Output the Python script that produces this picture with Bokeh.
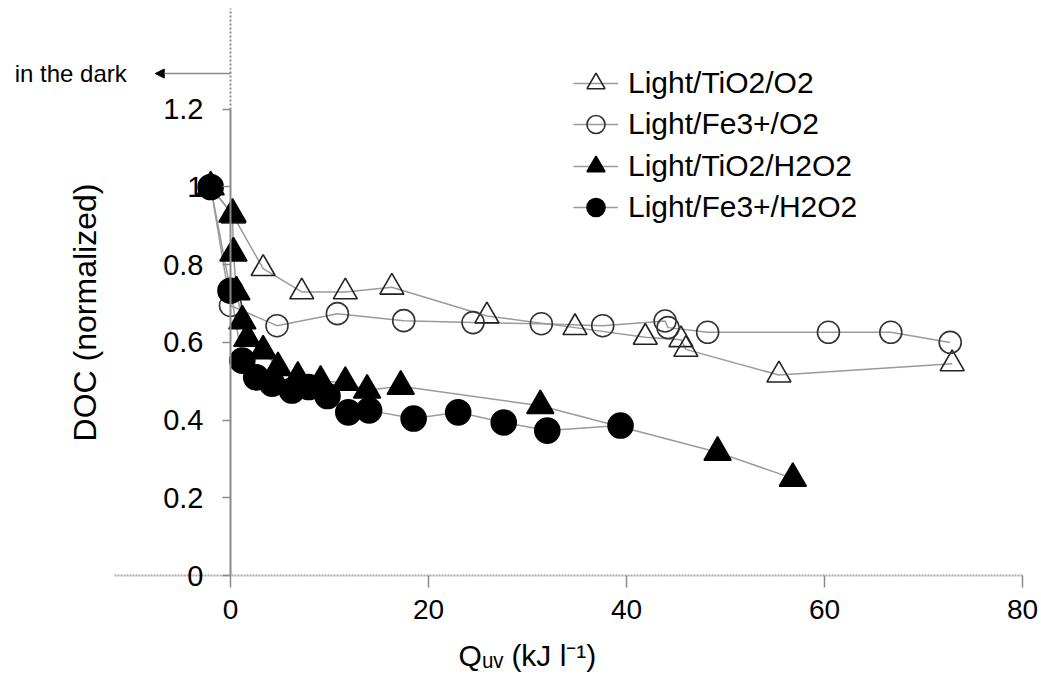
import math
from bokeh.plotting import figure
from bokeh.models import (Range1d, FixedTicker, Arrow, NormalHead, Label, LinearAxis,
                          Legend, LegendItem)
from bokeh.embed import file_html
from bokeh.resources import INLINE

FONT = "Liberation Sans"

# ---- data ----
series_names = ["Light/TiO2/O2", "Light/Fe3+/O2", "Light/TiO2/H2O2", "Light/Fe3+/H2O2"]

tio2_o2_x = [-2, 0.3, 3.3, 7.2, 11.6, 16.3, 25.9, 34.8, 41.9, 45.5, 46.0, 55.4, 72.9]
tio2_o2_y = [1.0, 0.925, 0.79, 0.73, 0.73, 0.742, 0.668, 0.638, 0.613, 0.607, 0.582, 0.516, 0.545]

fe_o2_x = [-2, 0, 4.7, 10.8, 17.5, 24.5, 31.4, 37.6, 43.9, 44.2, 48.2, 60.4, 66.7, 72.7]
fe_o2_y = [1.0, 0.695, 0.643, 0.674, 0.656, 0.651, 0.648, 0.643, 0.655, 0.638, 0.626, 0.626, 0.626, 0.60]

tio2_h2o2_x = [-2, 0.2, 0.3, 0.6, 1.2, 1.7, 3.3, 4.8, 6.8, 9.1, 11.6, 13.8, 17.2, 31.3, 49.2, 56.8]
tio2_h2o2_y = [1.0, 0.93, 0.83, 0.73, 0.655, 0.61, 0.578, 0.535, 0.51, 0.50, 0.497, 0.477, 0.487, 0.437, 0.317, 0.25]

fe_h2o2_x = [-2, 0, 1.2, 2.6, 4.2, 6.2, 7.9, 9.8, 11.9, 14.0, 18.5, 23.0, 27.6, 32.0, 39.4]
fe_h2o2_y = [1.0, 0.733, 0.553, 0.51, 0.494, 0.476, 0.485, 0.462, 0.42, 0.425, 0.404, 0.42, 0.394, 0.373, 0.386]

x_ticks = [0, 20, 40, 60, 80]
y_ticks = [0, 0.2, 0.4, 0.6, 0.8, 1.0, 1.2]
y_tick_labels = ["0", "0.2", "0.4", "0.6", "0.8", "1", "1.2"]

x_title = "Q\u1d64\u1d65 (kJ l\u207b\u00b9)"
y_title = "DOC (normalized)"
dark_label = "in the dark"
dark_arrow_y = 1.292
dark_arrow_end = -7.6

# ---- figure: the frame fills the whole canvas, axes sit at x=0 / y=0 ----
W, H = 1040, 686
p = figure(width=W, height=H, output_backend="svg", toolbar_location=None,
           title=None,
           x_range=Range1d(-23.23, 81.82), y_range=Range1d(-0.2857, 1.480),
           min_border_left=0, min_border_right=0, min_border_top=0,
           min_border_bottom=0)
p.outline_line_color = None
p.grid.visible = False
p.background_fill_color = "white"


def style_labels(ax, size):
    ax.major_label_text_font = FONT
    ax.major_label_text_font_size = size
    ax.major_label_text_color = "black"


# x axis at y = 0
xa = p.xaxis[0]
xa.fixed_location = 0
xa.bounds = (-11.7, 80)
xa.ticker = FixedTicker(ticks=x_ticks)
xa.major_tick_out = 12
xa.major_tick_in = 0
xa.minor_tick_out = 0
xa.minor_tick_in = 0
xa.axis_line_color = "#a8a8a8"
xa.axis_line_width = 2
xa.axis_line_dash = "2 1"
xa.major_tick_line_color = "#8a8a8a"
xa.major_tick_line_width = 1.5
style_labels(xa, "28px")
xa.major_label_standoff = 12

# y axis at x = 0 (solid up to 1.2)
ya = p.yaxis[0]
ya.fixed_location = 0
ya.bounds = (0, 1.2)
ya.ticker = FixedTicker(ticks=y_ticks)
ya.major_label_overrides = dict(zip(y_ticks, y_tick_labels))
ya.major_tick_out = 8
ya.major_tick_in = 0
ya.minor_tick_out = 0
ya.minor_tick_in = 0
ya.axis_line_color = "#8a8a8a"
ya.axis_line_width = 2
ya.major_tick_line_color = "#8a8a8a"
ya.major_tick_line_width = 1.5
style_labels(ya, "29px")
ya.major_label_standoff = 19

# dotted continuation of the Q=0 line ("dark" divider)
ya2 = LinearAxis(fixed_location=0, bounds=(1.2, 1.459))
ya2.ticker = FixedTicker(ticks=[])
ya2.major_tick_line_color = None
ya2.minor_tick_line_color = None
ya2.major_label_text_font_size = "0px"
ya2.axis_line_color = "#8a8a8a"
ya2.axis_line_width = 2
ya2.axis_line_dash = "2 2"
p.add_layout(ya2, "left")

# axis titles (placed as text annotations inside the full-canvas frame)
p.add_layout(Label(x=30.0, y=-0.206, text=x_title, text_font=FONT,
                   text_font_size="30px", text_align="center", text_baseline="middle",
                   text_color="black"))
p.add_layout(Label(x=-14.65, y=0.677, text=y_title, text_font=FONT, angle=math.pi / 2,
                   text_font_size="32px", text_align="center", text_baseline="middle",
                   text_color="black"))

p.add_layout(Arrow(end=NormalHead(size=9, fill_color="black", line_color="black"),
                   x_start=0, y_start=dark_arrow_y, x_end=dark_arrow_end, y_end=dark_arrow_y,
                   line_color="#8a8a8a", line_width=1.5))
p.add_layout(Label(x=-21.8, y=dark_arrow_y, text=dark_label, text_font=FONT,
                   text_font_size="24px", text_baseline="middle", text_align="left",
                   text_color="black"))

# ---- series ----
xs = [tio2_o2_x, fe_o2_x, tio2_h2o2_x, fe_h2o2_x]
ys = [tio2_o2_y, fe_o2_y, tio2_h2o2_y, fe_h2o2_y]
markers = ["triangle", "circle", "triangle", "circle"]
sizes = [24, 22, 27, 25]
fills = [None, None, "black", "black"]
edges = ["#222222", "#333333", "black", "black"]

line_r = []
for x, y in zip(xs, ys):
    line_r.append(p.line(x, y, line_color="#9a9a9a", line_width=1.5))
mark_r = []
for x, y, m, s, f, e in zip(xs, ys, markers, sizes, fills, edges):
    mark_r.append(p.scatter(x, y, marker=m, size=s, fill_color=f, line_color=e,
                            line_width=1.6))

# ---- legend: one row per legend box so the key markers can be large ----
row_centers = [83, 124, 166, 207]   # pixel rows of the legend entries
for name, lr, mr, cy in zip(series_names, line_r, mark_r, row_centers):
    lg = Legend(items=[LegendItem(label=name, renderers=[lr, mr])],
                location=(573, H - (cy + 25)))
    lg.margin = 0
    lg.padding = 0
    lg.border_line_color = None
    lg.background_fill_alpha = 0
    lg.glyph_width = 45
    lg.glyph_height = 50
    lg.label_height = 50
    lg.label_standoff = 10
    lg.spacing = 0
    lg.label_text_font = FONT
    lg.label_text_font_size = "30px"
    lg.label_text_color = "black"
    p.add_layout(lg, "center")

open("out.html", "w").write(file_html(p, INLINE))
